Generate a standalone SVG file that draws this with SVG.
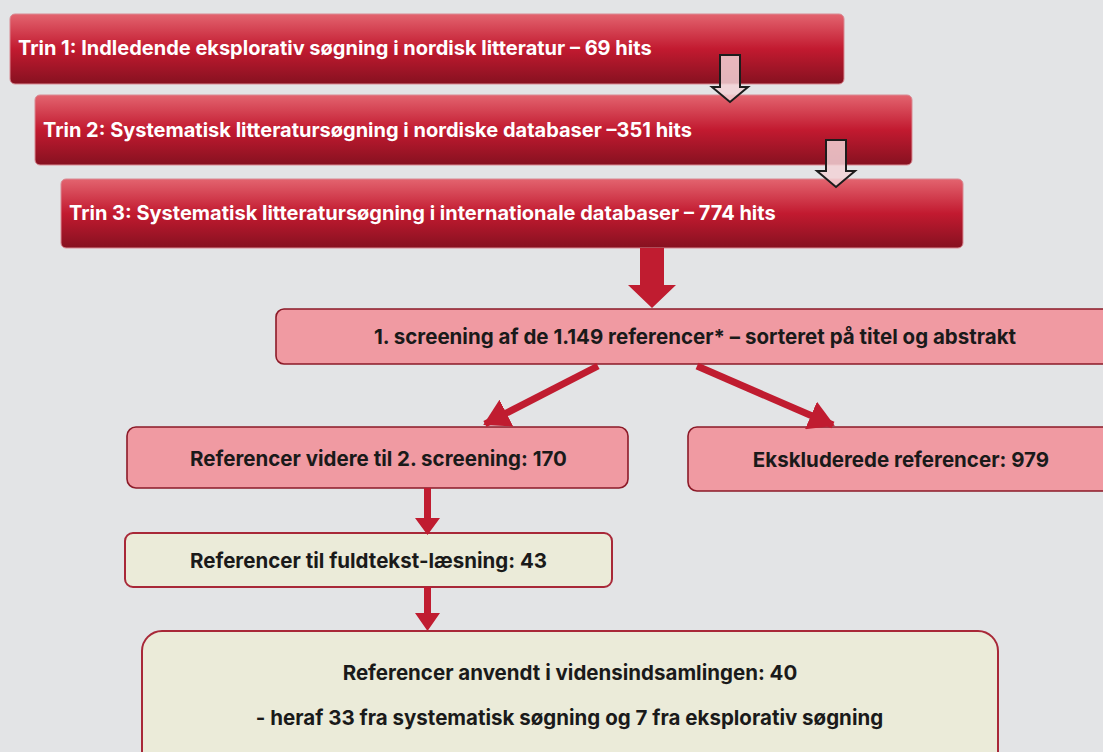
<svg xmlns="http://www.w3.org/2000/svg" width="1103" height="752" viewBox="0 0 1103 752">
<defs>
<linearGradient id="redGrad" x1="0" y1="0" x2="0" y2="1">
<stop offset="0" stop-color="#e3646f"/>
<stop offset="0.5" stop-color="#c21a30"/>
<stop offset="1" stop-color="#861120"/>
</linearGradient>
<marker id="head" markerUnits="userSpaceOnUse" markerWidth="26" markerHeight="30" viewBox="0 0 26 30" refX="24" refY="15" orient="auto">
<path d="M0,0 L26,15 L0,30 z" fill="#c01c30"/>
</marker>
</defs>
<style>
.step rect{fill:url(#redGrad);stroke:#d98a93;stroke-width:1}
.step text{font-family:Inter,"Noto Sans",sans-serif;font-weight:700;font-size:20px;fill:#ffffff}
.pink rect{fill:#f09aa2;stroke:#8c1a28;stroke-width:1.6}
.cream rect{fill:#ebebd9;stroke:#a82838;stroke-width:2}
.lbl{font-family:Inter,"Noto Sans",sans-serif;font-weight:700;font-size:20.5px;fill:#1a1a1a;text-anchor:middle}
.hollow{fill:#f2d2d6;fill-opacity:0.85;stroke:#1c1c1c;stroke-width:2}
.solid{fill:#c01c30}
.line{stroke:#c01c30;stroke-width:7;fill:none}
</style>
<rect width="1103" height="752" fill="#e3e4e6"/>

<g id="trin1" class="step">
<rect x="10" y="14" width="834" height="70" rx="5"/>
<text x="18" y="55">Trin 1: Indledende eksplorativ søgning i nordisk litteratur – 69 hits</text>
</g>
<g id="trin2" class="step">
<rect x="35" y="95" width="877" height="70" rx="5"/>
<text x="43" y="137">Trin 2: Systematisk litteratursøgning i nordiske databaser –351 hits</text>
</g>
<g id="trin3" class="step">
<rect x="61" y="179" width="902" height="69" rx="5"/>
<text x="69" y="220">Trin 3: Systematisk litteratursøgning i internationale databaser – 774 hits</text>
</g>

<g id="screening1" class="pink">
<rect x="276" y="309" width="840" height="55" rx="8"/>
<text class="lbl" x="695" y="344">1. screening af de 1.149 referencer* – sorteret på titel og abstrakt</text>
</g>
<g id="videre" class="pink">
<rect x="127" y="427" width="501" height="61" rx="9"/>
<text class="lbl" x="378.5" y="466">Referencer videre til 2. screening: 170</text>
</g>
<g id="ekskluderede" class="pink">
<rect x="688" y="427" width="430" height="64" rx="9"/>
<text class="lbl" x="901" y="467">Ekskluderede referencer: 979</text>
</g>
<g id="fuldtekst" class="cream">
<rect x="125" y="533" width="487" height="54" rx="8"/>
<text class="lbl" x="368.5" y="568">Referencer til fuldtekst-læsning: 43</text>
</g>
<g id="anvendt" class="cream">
<rect x="142" y="631" width="856" height="140" rx="20"/>
<text class="lbl" x="570" y="680">Referencer anvendt i vidensindsamlingen: 40</text>
<text class="lbl" x="569.5" y="725">- heraf 33 fra systematisk søgning og 7 fra eksplorativ søgning</text>
</g>

<g id="connectors">
<polygon class="hollow" points="720,55 740,55 740,87 748,87 730,102 712,87 720,87"/>
<polygon class="hollow" points="826,140 846,140 846,171 855,171 836,187 817,171 826,171"/>
<polygon class="solid" points="640,248 664,248 664,285 676,285 652,308 628,285 640,285"/>
<line class="line" x1="598" y1="366" x2="485" y2="424" marker-end="url(#head)"/>
<line class="line" x1="697" y1="366" x2="833" y2="425" marker-end="url(#head)"/>
<polygon class="solid" points="424,488 431,488 431,518 440,518 427.5,535 415,518 424,518"/>
<polygon class="solid" points="424,587 431,587 431,613 440,613 427.5,631 415,613 424,613"/>
</g>
</svg>
